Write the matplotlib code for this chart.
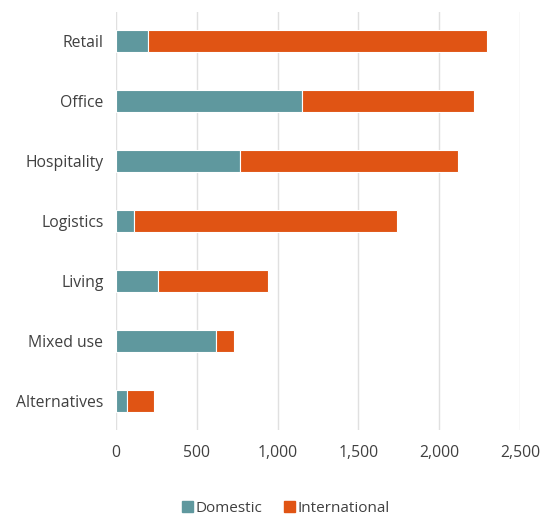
import matplotlib

matplotlib.use("Agg")
import matplotlib.pyplot as plt
from matplotlib.patches import Patch
from matplotlib.ticker import FuncFormatter

categories = ["Retail", "Office", "Hospitality", "Logistics", "Living", "Mixed use", "Alternatives"]
domestic = [200, 1150, 767, 111, 258, 619, 70]
international = [2095, 1065, 1347, 1626, 681, 113, 163]

TEAL = "#5f989e"
ORANGE = "#e05414"
TEXT = "#404040"

plt.rcParams["font.family"] = ["Open Sans", "DejaVu Sans"]

fig = plt.figure(figsize=(5.43, 5.19), dpi=100)
ax = fig.add_axes([0.2136, 0.1715, 0.744, 0.8054])

y = list(range(len(categories)))
height = 0.37
ax.barh(y, domestic, height, color=TEAL, edgecolor="white", linewidth=0.8, zorder=3)
ax.barh(y, international, height, left=domestic, color=ORANGE, edgecolor="white", linewidth=0.8, zorder=3)

ax.set_xlim(0, 2500)
ax.set_ylim(len(categories) - 0.52, -0.48)
ax.set_xticks([0, 500, 1000, 1500, 2000, 2500])
ax.xaxis.set_major_formatter(FuncFormatter(lambda v, _: f"{int(v):,}"))
ax.set_yticks(y)
ax.set_yticklabels(categories)
for label in ax.get_yticklabels():
    label.set_color("#1a1a1a" if label.get_text() == "Office" else TEXT)

ax.tick_params(axis="both", length=0, labelsize=11.3, colors=TEXT)
ax.tick_params(axis="x", pad=11)
ax.tick_params(axis="y", pad=9)
ax.grid(axis="x", color="#e0e0e0", linewidth=1, zorder=0)
for spine in ax.spines.values():
    spine.set_visible(False)

handles = [Patch(color=TEAL, label="Domestic"), Patch(color=ORANGE, label="International")]
fig.legend(
    handles=handles,
    loc="center",
    bbox_to_anchor=(0.527, 0.02),
    ncol=2,
    frameon=False,
    fontsize=11,
    handlelength=0.7,
    handleheight=0.7,
    handletextpad=0.2,
    columnspacing=1.4,
    labelcolor=TEXT,
)

fig.savefig("out.png", dpi=100)
